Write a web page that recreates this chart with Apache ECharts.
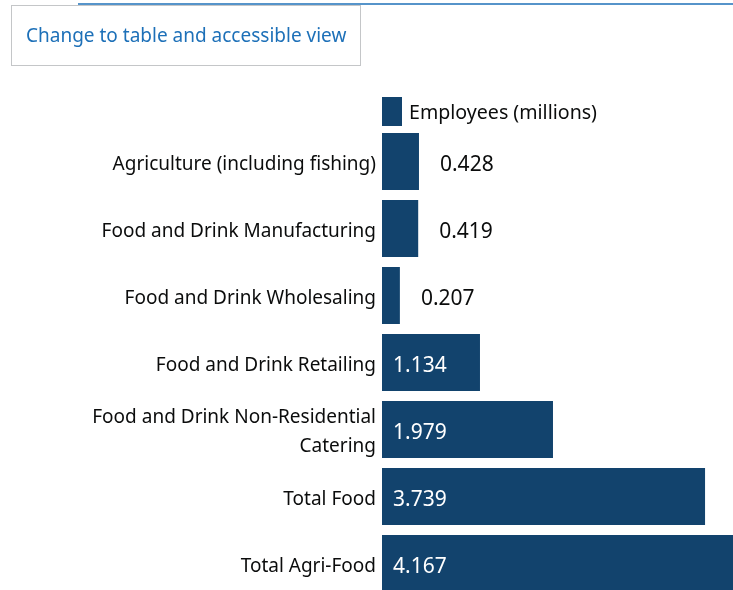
<!DOCTYPE html>
<html>
<head>
<meta charset="utf-8">
<script src="https://cdn.jsdelivr.net/npm/echarts@6/dist/echarts.min.js"></script>
<style>
  html, body { margin: 0; padding: 0; width: 733px; height: 590px; overflow: hidden; background: #fff; font-family: "Noto Sans", sans-serif; }
  #topline { position: absolute; left: 78px; top: 3px; width: 700px; height: 2px; background: #5694ca; }
  #btn { position: absolute; left: 11px; top: 5px; width: 348px; height: 59px; border: 1px solid #c4c6c8; color: #1d70b8; font-size: 19px; line-height: 59px; }
  #btn span { position: absolute; left: 14px; top: 0; }
  #chart { position: absolute; left: 0; top: 0; width: 800px; height: 620px; }
</style>
</head>
<body>
<div id="chart"></div>
<div id="topline"></div>
<div id="btn"><span>Change to table and accessible view</span></div>
<script>
const categories = [
  "Agriculture (including fishing)",
  "Food and Drink Manufacturing",
  "Food and Drink Wholesaling",
  "Food and Drink Retailing",
  "Food and Drink Non-Residential\nCatering",
  "Total Food",
  "Total Agri-Food"
];
const employees = [0.428, 0.419, 0.207, 1.134, 1.979, 3.739, 4.167];
const seriesName = "Employees (millions)";

const barColor = "#12436d";
const textColor = "#0b0c0c";

const data = employees.map(v => ({
  value: v,
  label: v < 1
    ? { position: "right", distance: 21, color: textColor }
    : { position: "insideLeft", distance: 11, color: "#ffffff" }
}));

const chart = echarts.init(document.getElementById("chart"), null, { renderer: "canvas" });
chart.setOption({
  animation: false,
  textStyle: { fontFamily: "Noto Sans" },
  legend: {
    data: [seriesName],
    left: 382,
    top: 97,
    padding: 0,
    itemWidth: 20,
    itemHeight: 29,
    icon: "rect",
    formatter: n => "{a|" + n + "}",
    textStyle: {
      fontSize: 19.6, color: textColor, padding: [0, 0, 0, 2],
      rich: { a: { fontSize: 19.6, color: textColor, fontFamily: "Noto Sans", padding: [4, 0, 0, 0] } }
    }
  },
  grid: { left: 382, top: 128, width: 432, height: 469, containLabel: false, outerBoundsMode: "none" },
  xAxis: { type: "value", min: 0, max: 5, show: false },
  yAxis: {
    type: "category",
    data: categories,
    inverse: true,
    axisLine: { show: false },
    axisTick: { show: false },
    axisLabel: {
      fontSize: 19, color: textColor, margin: 6, align: "right",
      formatter: v => v.split("\n").map(s => "{a|" + s + "}").join("\n"),
      rich: { a: { fontSize: 19, color: textColor, fontFamily: "Noto Sans", lineHeight: 29, padding: [6, 0, 0, 0] } }
    }
  },
  series: [{
    name: seriesName,
    type: "bar",
    data: data,
    barWidth: "85%",
    itemStyle: { color: barColor },
    label: { show: true, fontSize: 21, offset: [0, 4], formatter: p => p.value.toFixed(3) }
  }]
});
</script>
</body>
</html>
